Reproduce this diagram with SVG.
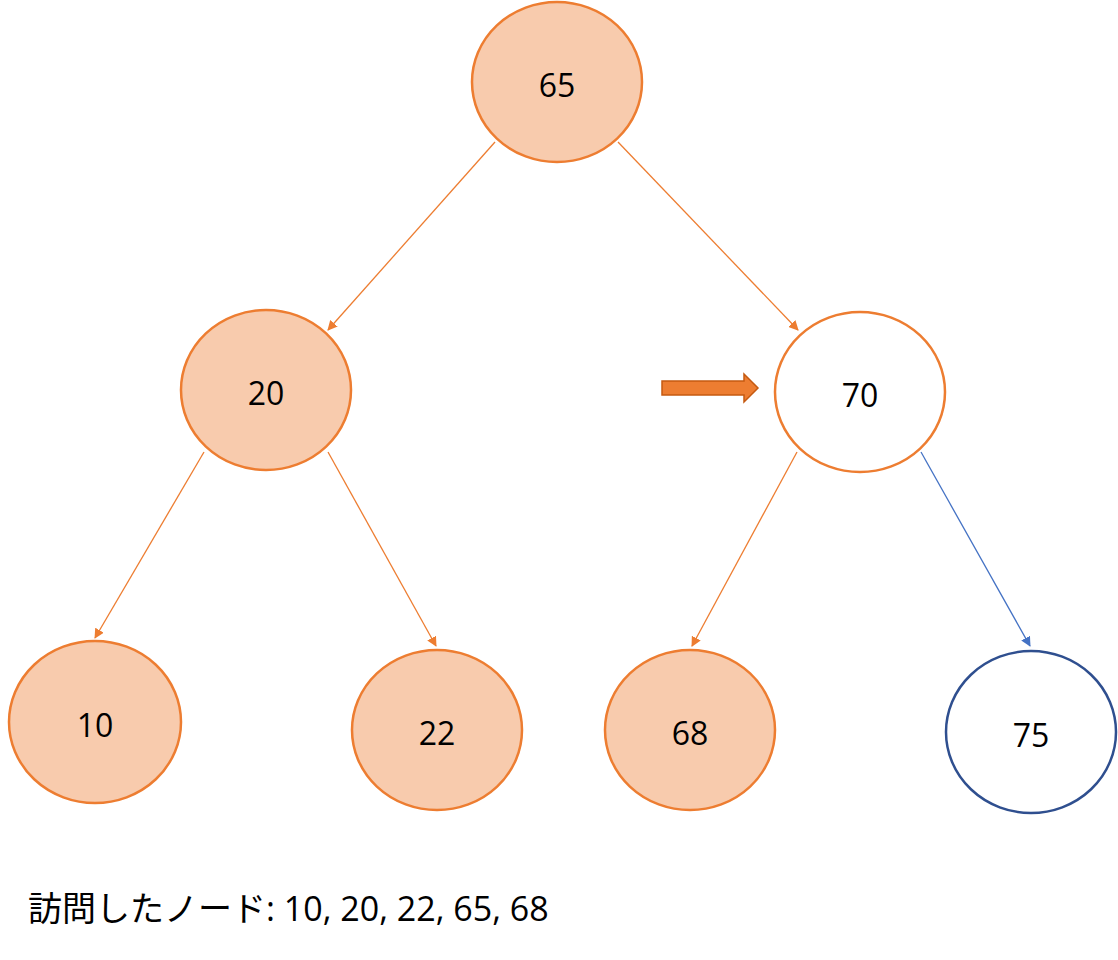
<svg xmlns="http://www.w3.org/2000/svg" width="1118" height="960" viewBox="0 0 1118 960">
<style>
.n{fill:#F8CBAD;stroke:#ED7D31;stroke-width:2.5}
.w{fill:#fff;stroke:#ED7D31;stroke-width:2.5}
.b{fill:#fff;stroke:#2F4F8F;stroke-width:2.5}
text{font-family:"Open Sans","Noto Sans","Noto Sans CJK JP",sans-serif;font-size:32px;fill:#000;text-anchor:middle;dominant-baseline:central}
.e{stroke:#ED7D31;stroke-width:1.3;fill:none;marker-end:url(#ao)}
.eb{stroke:#4472C4;stroke-width:1.3;fill:none;marker-end:url(#ab)}
</style>
<defs>
<marker id="ao" markerWidth="10" markerHeight="10" refX="9" refY="5" orient="auto" markerUnits="userSpaceOnUse"><path d="M0,0 L10,5 L0,10 Z" fill="#ED7D31"/></marker>
<marker id="ab" markerWidth="10" markerHeight="10" refX="9" refY="5" orient="auto" markerUnits="userSpaceOnUse"><path d="M0,0 L10,5 L0,10 Z" fill="#4472C4"/></marker>
</defs>
<rect width="1118" height="960" fill="#fff"/>
<g id="connectors">
<line class="e" x1="495" y1="142" x2="328" y2="330"/>
<line class="e" x1="618" y1="142" x2="798" y2="330"/>
<line class="e" x1="204" y1="452" x2="95" y2="638"/>
<line class="e" x1="328" y1="452" x2="436" y2="646"/>
<line class="e" x1="797" y1="452" x2="692" y2="646"/>
<line class="eb" x1="921" y1="452" x2="1030" y2="646"/>
</g>
<g id="n65"><ellipse class="n" cx="557" cy="82" rx="85" ry="80"/><text x="557" y="84">65</text></g>
<g id="n20"><ellipse class="n" cx="266" cy="390" rx="85" ry="80"/><text x="266" y="392">20</text></g>
<g id="n70"><ellipse class="w" cx="860" cy="392" rx="85" ry="80"/><text x="860" y="394">70</text></g>
<g id="n10"><ellipse class="n" cx="95" cy="722" rx="86" ry="81"/><text x="95" y="724">10</text></g>
<g id="n22"><ellipse class="n" cx="437" cy="730" rx="85" ry="80"/><text x="437" y="732">22</text></g>
<g id="n68"><ellipse class="n" cx="690" cy="730" rx="85" ry="80"/><text x="690" y="732">68</text></g>
<g id="n75"><ellipse class="b" cx="1031" cy="732" rx="85" ry="81"/><text x="1031" y="734">75</text></g>
<g id="pointer"><path d="M662,381 L744,381 L744,374 L758,388 L744,402 L744,395 L662,395 Z" fill="#ED7D31" stroke="#C55A11" stroke-width="1.5"/></g>
<text x="28" y="908" style="text-anchor:start;font-size:34px">訪問したノード: 10, 20, 22, 65, 68</text>
</svg>
